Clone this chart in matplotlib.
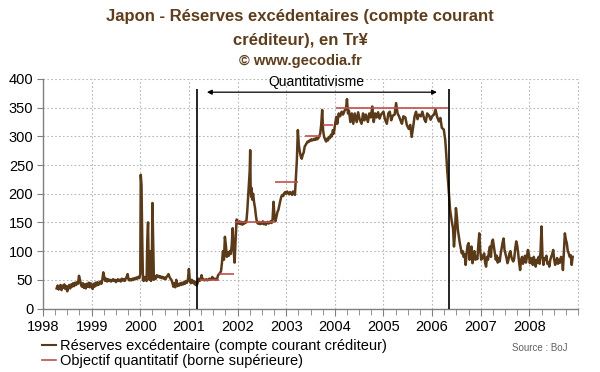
import matplotlib
matplotlib.use("Agg")
import matplotlib.pyplot as plt
from matplotlib.ticker import MultipleLocator
from matplotlib.lines import Line2D

plt.rcParams['font.family'] = ['Liberation Sans', 'DejaVu Sans']

# ---- Data ----
years = [
 1998.28,1998.30,1998.32,1998.34,1998.36,1998.38,1998.40,1998.42,1998.44,1998.46,1998.48,1998.50,1998.52,1998.54,1998.56,1998.58,1998.60,1998.62,1998.64,1998.66,1998.68,1998.70,1998.72,1998.74,1998.76,1998.78,1998.80,1998.82,1998.84,1998.86,1998.88,1998.90,1998.92,1998.94,1998.96,1998.98,
 1999.00,1999.02,1999.04,1999.06,1999.08,1999.10,1999.12,1999.14,1999.16,1999.18,1999.20,1999.22,1999.24,1999.26,1999.28,1999.30,1999.32,1999.34,1999.36,1999.38,1999.40,1999.42,1999.44,1999.46,1999.48,1999.50,1999.52,1999.54,1999.56,1999.58,1999.60,1999.62,1999.64,1999.66,1999.68,1999.70,1999.72,1999.74,1999.76,1999.78,1999.80,1999.82,1999.84,1999.86,1999.88,1999.90,1999.92,1999.94,1999.96,1999.98,
 2000.00,2000.01,2000.025,2000.04,2000.055,2000.07,2000.09,2000.11,2000.13,2000.145,2000.16,2000.175,2000.19,2000.205,2000.22,2000.235,2000.25,2000.265,2000.28,2000.30,2000.32,2000.34,2000.36,2000.38,2000.40,2000.42,2000.44,2000.46,2000.48,2000.50,2000.52,2000.54,2000.56,2000.58,2000.60,2000.62,2000.64,2000.66,2000.68,2000.70,2000.72,2000.74,2000.76,2000.78,2000.80,2000.82,2000.84,2000.86,2000.88,2000.90,2000.92,2000.94,2000.96,2000.98,
 2001.00,2001.02,2001.04,2001.06,2001.08,2001.10,2001.12,2001.14,2001.16,2001.18,2001.20,2001.22,2001.24,2001.26,2001.28,2001.30,2001.32,2001.34,2001.36,2001.38,2001.40,2001.42,2001.44,2001.46,2001.48,2001.50,2001.52,2001.54,2001.56,2001.58,2001.60,2001.62,2001.64,2001.66,2001.68,2001.70,2001.72,2001.74,2001.76,2001.78,2001.80,2001.82,2001.84,2001.86,2001.88,2001.90,2001.92,2001.94,2001.96,2001.98,
 2002.00,2002.02,2002.04,2002.06,2002.08,2002.10,2002.12,2002.14,2002.16,2002.18,2002.20,2002.21,2002.23,2002.25,2002.26,2002.27,2002.28,2002.29,2002.30,2002.32,2002.34,2002.36,2002.38,2002.40,2002.42,2002.44,2002.46,2002.48,2002.50,2002.52,2002.54,2002.56,2002.58,2002.60,2002.62,2002.64,2002.66,2002.68,2002.70,2002.72,2002.74,2002.76,2002.78,2002.80,2002.82,2002.84,2002.86,2002.88,2002.90,2002.92,2002.94,2002.96,2002.98,
 2003.00,2003.02,2003.04,2003.06,2003.08,2003.10,2003.12,2003.14,2003.16,2003.18,2003.20,2003.22,2003.24,2003.26,2003.28,2003.30,2003.32,2003.34,2003.36,2003.38,2003.40,2003.42,2003.44,2003.46,2003.48,2003.50,2003.52,2003.54,2003.56,2003.58,2003.60,2003.62,2003.64,2003.66,2003.68,2003.70,2003.72,2003.74,2003.76,2003.78,2003.80,2003.82,2003.84,2003.86,2003.88,2003.90,2003.92,2003.94,2003.96,2003.98,
 2004.00,2004.03,2004.05,2004.08,2004.11,2004.14,2004.17,2004.20,2004.23,2004.25,2004.27,2004.29,2004.32,2004.35,2004.38,2004.41,2004.45,2004.48,2004.51,2004.55,2004.58,2004.61,2004.64,2004.68,2004.71,2004.74,2004.77,2004.80,2004.83,2004.86,2004.89,2004.92,2004.95,
 2005.00,2005.03,2005.07,2005.10,2005.13,2005.16,2005.19,2005.23,2005.26,2005.29,2005.32,2005.35,2005.38,2005.41,2005.45,2005.48,2005.52,2005.55,2005.58,2005.61,2005.64,2005.67,2005.70,2005.73,2005.77,2005.80,2005.84,2005.87,2005.90,2005.94,2005.97,
 2006.00,2006.04,2006.07,2006.10,2006.14,2006.17,2006.20,2006.24,2006.27,2006.29,2006.31,2006.33,2006.35,2006.37,2006.39,2006.41,2006.43,2006.45,2006.47,2006.49,2006.51,2006.53,2006.55,2006.57,2006.59,2006.61,2006.63,2006.65,2006.67,2006.69,2006.71,2006.73,2006.75,2006.77,2006.79,2006.81,2006.83,2006.85,2006.87,2006.89,2006.91,2006.93,2006.95,2006.97,2006.99,
 2007.01,2007.03,2007.05,2007.07,2007.09,2007.11,2007.13,2007.15,2007.17,2007.19,2007.21,2007.23,2007.25,2007.27,2007.29,2007.31,2007.33,2007.35,2007.37,2007.39,2007.41,2007.43,2007.45,2007.47,2007.49,2007.51,2007.53,2007.55,2007.57,2007.59,2007.61,2007.63,2007.65,2007.67,2007.69,2007.71,2007.73,2007.75,2007.77,2007.79,2007.81,2007.83,2007.85,2007.87,2007.89,2007.91,2007.93,2007.95,2007.97,2007.99,
 2008.01,2008.03,2008.05,2008.07,2008.09,2008.11,2008.13,2008.15,2008.17,2008.19,2008.21,2008.23,2008.25,2008.27,2008.29,2008.31,2008.33,2008.35,2008.37,2008.39,2008.41,2008.43,2008.45,2008.47,2008.49,2008.51,2008.53,2008.55,2008.57,2008.59,2008.61,2008.63,2008.65,2008.67,2008.69,2008.71,2008.73,2008.75,2008.77,2008.79,2008.81,2008.83,2008.85,2008.87,2008.89,
]
reserves = [
 35,40,33,38,41,32,40,36,42,34,39,30,38,41,35,42,38,44,39,45,41,46,43,57,50,42,38,44,36,42,35,43,38,45,37,44,
 40,34,43,38,45,40,46,41,44,47,43,50,63,55,48,52,47,51,48,50,47,49,51,48,50,46,49,51,48,50,47,52,49,51,48,52,55,60,50,49,51,49,52,50,53,51,54,52,55,53,
 60,233,215,122,50,48,55,52,48,120,150,60,50,100,48,55,184,120,50,56,52,58,55,57,54,56,53,55,52,54,51,55,57,60,55,52,50,45,38,44,37,50,39,43,40,44,41,45,42,46,43,48,45,50,
 69,48,44,50,45,48,42,46,40,45,52,48,50,58,50,51,49,50,51,49,50,52,50,51,55,52,51,52,50,52,58,60,62,65,80,100,85,125,110,90,98,92,100,95,110,140,100,80,120,155,
 150,148,152,147,151,146,150,148,152,150,170,184,210,240,276,205,195,210,190,200,185,175,160,150,148,151,147,150,148,152,147,150,146,149,151,148,150,152,149,155,186,160,152,160,168,172,180,188,195,198,196,201,203,
 200,204,201,199,203,201,198,204,200,198,230,259,311,285,273,265,261,268,272,282,285,288,291,290,293,292,295,293,294,296,294,297,295,297,300,305,320,346,310,299,295,291,296,293,299,297,303,300,311,305,
 318,334,322,340,335,343,338,345,348,365,340,345,325,340,322,340,325,342,330,322,340,328,338,325,340,333,352,325,340,333,342,331,338,
 343,330,322,340,343,328,336,338,358,340,335,328,322,335,333,320,313,320,299,316,335,343,330,338,335,343,330,325,340,336,329,
 335,338,347,335,326,332,315,312,294,270,242,220,195,172,160,149,140,108,130,175,160,137,125,114,105,96,100,90,95,76,96,110,114,85,100,108,79,95,100,85,90,86,110,131,100,
 85,92,88,96,80,73,90,85,100,108,90,115,120,108,95,85,92,80,88,82,95,105,115,122,102,95,88,79,85,96,100,90,85,82,88,105,117,110,96,80,67,85,90,78,85,92,80,90,102,95,
 79,88,85,76,90,82,73,85,80,90,78,100,143,90,76,88,85,92,78,80,73,85,90,95,102,85,76,82,88,78,85,80,90,88,67,100,131,120,114,100,96,90,93,76,90,
]

target_start = [2001.22, 2001.62, 2001.94, 2002.77, 2003.38, 2003.76, 2004.02]
target_end   = [2001.62, 2001.92, 2002.77, 2003.24, 2003.72, 2003.97, 2006.33]
target_value = [50, 60, 150, 220, 300, 320, 350]

qe_start, qe_end = 2001.17, 2006.34
year_ticks = list(range(1998, 2009))

brown = '#5a3a18'
red = '#c0504d'
title_col = '#5e3d1c'

fig = plt.figure(figsize=(6.0, 3.72), dpi=100)
ax = fig.add_axes([43/600, 1-308.5/372, (578-43)/600, (308.5-79)/372])

ax.set_xlim(1998, 2009)
ax.set_ylim(0, 400)
ax.set_xticks(year_ticks)
ax.set_xticklabels([str(y) for y in year_ticks])
ax.xaxis.set_minor_locator(MultipleLocator(0.25))
ax.yaxis.set_major_locator(MultipleLocator(50))
ax.grid(True, which='major', color='#b8b8b8', linestyle=(0, (1.5, 2)), linewidth=0.8)
for s in ['top', 'right']:
    ax.spines[s].set_visible(False)
for s in ['left', 'bottom']:
    ax.spines[s].set_color('#808080')
    ax.spines[s].set_linewidth(1.0)
ax.tick_params(axis='both', which='both', direction='out', color='#808080', labelsize=10.5)
ax.tick_params(axis='x', which='major', length=5, pad=3)
ax.tick_params(axis='x', which='minor', length=4)
ax.tick_params(axis='y', length=4, pad=3)
# gridline at right edge (2009)
ax.axvline(2009, color='#b8b8b8', linestyle=(0, (1.5, 2)), linewidth=0.8, clip_on=False)

ax.plot(years, reserves, color=brown, linewidth=1.8, zorder=3)
ax.hlines(target_value, target_start, target_end, color=red, linewidth=1.2, zorder=4)

ax.vlines([qe_start, qe_end], 0, 382, color='black', linewidth=1.2, zorder=5)
ax.annotate('', xy=(2001.37, 377), xytext=(2006.10, 377),
            arrowprops=dict(arrowstyle='<|-|>', color='black', lw=0.9,
                            mutation_scale=7, shrinkA=0, shrinkB=0))
ax.text(2003.62, 382, 'Quantitativisme', ha='center', va='bottom', fontsize=10)

fig.text(0.5, 1-17/372, 'Japon - Réserves excédentaires (compte courant',
         ha='center', va='center', fontsize=12, fontweight='bold', color=title_col)
fig.text(0.5, 1-40/372, 'créditeur), en Tr¥',
         ha='center', va='center', fontsize=12, fontweight='bold', color=title_col)
fig.text(0.5, 1-61/372, '© www.gecodia.fr',
         ha='center', va='center', fontsize=10.5, fontweight='bold', color=title_col)

handles = [Line2D([], [], color=brown, linewidth=1.5),
           Line2D([], [], color=red, linewidth=1.2)]
fig.legend(handles, ['Réserves excédentaire (compte courant créditeur)',
                     'Objectif quantitatif (borne supérieure)'],
           loc='upper left', bbox_to_anchor=(42/600, 1-339/372), frameon=False,
           fontsize=10.5, handlelength=0.95, handletextpad=0.25, labelspacing=0.1,
           borderpad=0, borderaxespad=0)
fig.text(540/600, 1-348/372, 'Source : BoJ', ha='center', va='center',
         fontsize=7, color='#606060')

fig.savefig('out.png', dpi=100)
